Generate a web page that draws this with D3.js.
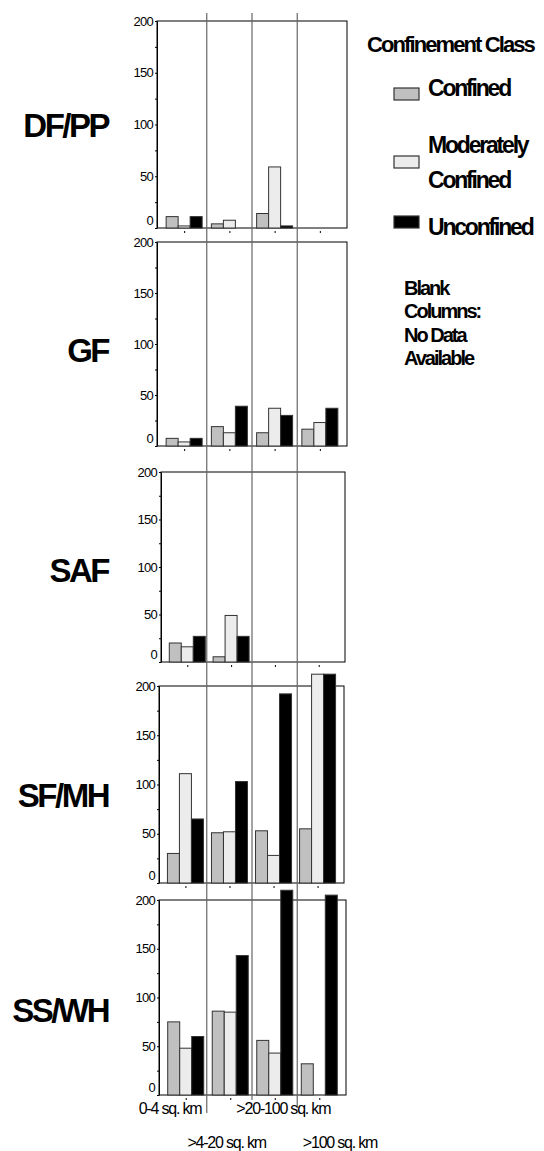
<!DOCTYPE html>
<meta charset="utf-8">
<style>
  body { margin: 0; background: #ffffff; }
  svg { display: block; font-family: "Liberation Sans", Arial, sans-serif; }
  .tick text { font-size: 13px; letter-spacing: -0.7px; fill: #000; }
  .domain, .tick line { stroke: #000; }
</style>
<body>
<script src="https://d3js.org/d3.v7.min.js"></script>
<script>

// chart data (number of units per class)
var regions = ["DF/PP", "GF", "SAF", "SF/MH", "SS/WH"];
var sizeClasses = ["0-4 sq. km", ">4-20 sq. km", ">20-100 sq. km", ">100 sq. km"];
var classes = ["Confined", "Moderately Confined", "Unconfined"];
// null = blank column, no data available
var confined   = [[11, 4, 14, null], [7.5, 19, 13, 16.5], [20, 5.5, null, null], [30, 51, 53, 55], [75, 86, 56, 32]];
var moderately = [[2, 7.5, 59, null], [4, 13, 37, 23], [16, 49, null, null], [111, 52, 28, 212], [48, 85, 43, 0]];
var unconfined = [[11, 0, 2, null], [7.5, 39, 30, 37], [27, 27, null, null], [65, 103, 192, 212], [60, 143, 210, 205]];
var yTicks = [0, 50, 100, 150, 200];
var yMinorTicks = [25, 75, 125, 175];

var series = [confined, moderately, unconfined];

// layout of the five stacked panels
var panels = [
  {top: 21,  bottom: 228,  left: 157, right: 347, labelY: 137},
  {top: 242, bottom: 446,  left: 157, right: 347, labelY: 362},
  {top: 472, bottom: 662,  left: 161, right: 345, labelY: 582},
  {top: 686, bottom: 883,  left: 159, right: 344, labelY: 807},
  {top: 900, bottom: 1095, left: 159, right: 346, labelY: 1022}
];

var color = d3.scaleOrdinal()
  .domain(classes)
  .range(["#c0c0c0", "#ececec", "#000000"]);

var inner = d3.scaleBand()
  .domain(classes)
  .range([-18, 18]);

var svg = d3.select("body").append("svg")
  .attr("width", 544)
  .attr("height", 1151);

panels.forEach(function(p, i) {
  var x = d3.scalePoint().domain(sizeClasses).range([p.left, p.right]).padding(0.6);
  var y = d3.scaleLinear().domain([0, 200]).range([p.bottom, p.top]);

  var g = svg.append("g").attr("class", "panel");

  //plot frame
  g.append("rect")
    .attr("x", p.left)
    .attr("y", p.top)
    .attr("width", p.right - p.left)
    .attr("height", p.bottom - p.top)
    .attr("fill", "none")
    .attr("stroke", "#000")
    .attr("stroke-width", 1);

  //y axis, major + minor ticks
  var yAx = g.append("g")
    .attr("transform", "translate(" + p.left + ",0)")
    .call(d3.axisLeft(y).tickValues(yTicks).tickSize(2).tickPadding(2).tickSizeOuter(0));
  yAx.selectAll(".tick text")
    .attr("dy", function(d) { return d == 0 ? "-0.25em" : "0.32em"; });
  g.append("g")
    .attr("transform", "translate(" + p.left + ",0)")
    .call(d3.axisLeft(y).tickValues(yMinorTicks).tickSize(2).tickFormat("").tickSizeOuter(0))
    .select(".domain").remove();

  //x axis small ticks below
  var xAx = g.append("g")
    .attr("transform", "translate(0," + (p.bottom + 3) + ")")
    .call(d3.axisBottom(x).tickSize(2).tickFormat("").tickSizeOuter(0));
  xAx.select(".domain").remove();

  //bars
  var rows = [];
  sizeClasses.forEach(function(sc, j) {
    classes.forEach(function(c, k) {
      var v = series[k][i][j];
      if (v !== null) rows.push({size: sc, cls: c, value: v});
    });
  });

  g.selectAll(".bar")
    .data(rows)
    .enter().append("rect")
    .attr("class", "bar")
    .attr("x", function(d) { return x(d.size) + inner(d.cls); })
    .attr("width", inner.bandwidth())
    .attr("y", function(d) { return y(d.value); })
    .attr("height", function(d) { return y(0) - y(d.value); })
    .attr("fill", function(d) { return color(d.cls); })
    .attr("stroke", function(d) { return d.value > 0 ? "#333" : "none"; })
    .attr("stroke-width", 1);

  //panel label
  svg.append("text")
    .attr("x", 108)
    .attr("y", p.labelY)
    .attr("text-anchor", "end")
    .style("font-size", "33px")
    .style("font-weight", "bold")
    .style("letter-spacing", "-2.5px")
    .text(regions[i]);
});

//vertical separators running through all panels
var xTop = d3.scalePoint().domain(sizeClasses).range([panels[0].left, panels[0].right]).padding(0.6);
var sepEnds = [1113, 1100, 1108];
sizeClasses.slice(1).forEach(function(sc, j) {
  var sx = (xTop(sizeClasses[j]) + xTop(sc)) / 2;
  svg.append("line")
    .attr("x1", sx).attr("x2", sx)
    .attr("y1", 13).attr("y2", sepEnds[j])
    .attr("stroke", "#666")
    .attr("stroke-width", 1.2);
});

//size class labels, in two staggered rows
var xLab = d3.scalePoint().domain(sizeClasses).range([170, 340]);
svg.selectAll(".xlabel")
  .data(sizeClasses)
  .enter().append("text")
  .attr("class", "xlabel")
  .attr("x", function(d) { return xLab(d); })
  .attr("y", function(d, i) { return i % 2 == 0 ? 1114 : 1148; })
  .attr("text-anchor", "middle")
  .style("font-size", "16px")
  .style("letter-spacing", "-1.2px")
  .text(function(d) { return d; });

//legend
svg.append("text")
  .attr("x", 367)
  .attr("y", 52)
  .style("font-size", "22px")
  .style("font-weight", "bold")
  .style("letter-spacing", "-1.9px")
  .text("Confinement Class");

var legendRows = [
  {cls: "Confined", boxY: 88, lines: ["Confined"], textY: 96},
  {cls: "Moderately Confined", boxY: 156, lines: ["Moderately", "Confined"], textY: 153},
  {cls: "Unconfined", boxY: 216, lines: ["Unconfined"], textY: 235}
];

legendRows.forEach(function(r) {
  svg.append("rect")
    .attr("x", 394)
    .attr("y", r.boxY)
    .attr("width", 25)
    .attr("height", 12)
    .attr("fill", color(r.cls))
    .attr("stroke", "#333")
    .attr("stroke-width", 1.2);
  r.lines.forEach(function(line, k) {
    svg.append("text")
      .attr("x", 428)
      .attr("y", r.textY + k * 35)
      .style("font-size", "23px")
      .style("font-weight", "bold")
      .style("letter-spacing", "-2.2px")
      .text(line);
  });
});

var note = ["Blank", "Columns:", "No Data", "Available"];
svg.selectAll(".note")
  .data(note)
  .enter().append("text")
  .attr("class", "note")
  .attr("x", 404)
  .attr("y", function(d, i) { return 295 + i * 23.3; })
  .style("font-size", "20px")
  .style("font-weight", "bold")
  .style("letter-spacing", "-2px")
  .text(function(d) { return d; });

</script>
